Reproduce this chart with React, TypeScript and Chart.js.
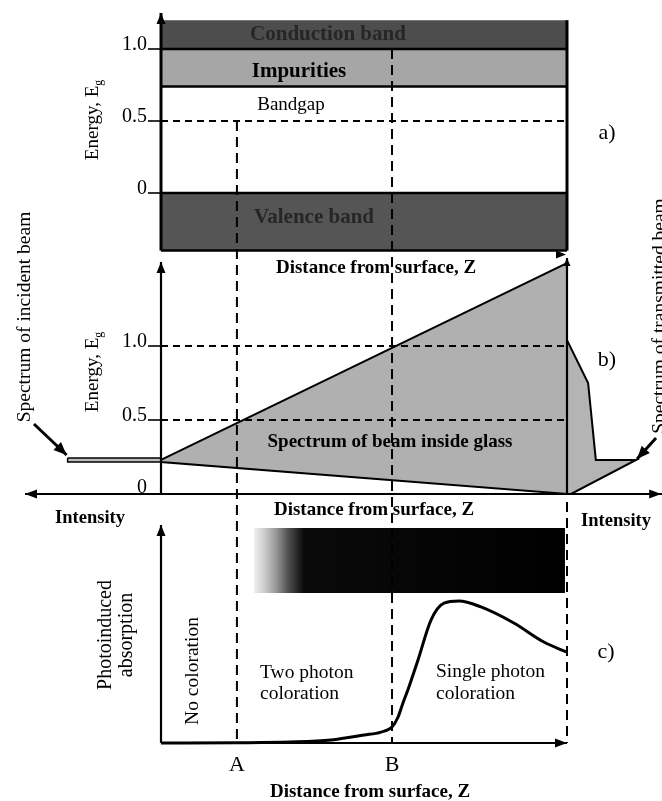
import React, { useEffect, useRef } from "react";
import { Chart, registerables } from "chart.js";

Chart.register(...registerables);

const SERIF = '"Liberation Serif", "Times New Roman", Times, serif';

// ---------- Panel a: band diagram (energy in units of Eg, depth Z normalised 0..1)
const bandZ = [0, 1];
const conductionBand = [1.0, 1.2];
const impurityBand = [0.74, 1.0];
const valenceBand = [-0.4, 0.0];
const energyTicks = [1.0, 0.5, 0];
const energyTickLabels = ["1.0", "0.5", "0"];

// ---------- Panel b: spectrum of the beam
const beamInsideZ = [0, 1, 1, 0, 0];
const beamInsideE = [0.23, 1.56, 0.0, 0.216, 0.23];
const incidentZ = [-0.23, 0, 0, -0.23, -0.23];
const incidentE = [0.243, 0.243, 0.216, 0.216, 0.243];
const transmittedZ = [1.0, 1.052, 1.071, 1.17, 1.01, 1.0];
const transmittedE = [1.04, 0.75, 0.23, 0.23, 0.0, 0.0];

// ---------- Panel c: photoinduced absorption
const absorptionZ = [0, 0.187, 0.318, 0.419, 0.5, 0.542, 0.569, 0.584, 0.596, 0.608, 0.633, 0.665, 0.697, 0.734, 0.788, 0.869, 0.943, 0.998];
const absorptionA = [0, 0.002, 0.007, 0.021, 0.056, 0.077, 0.113, 0.183, 0.282, 0.373, 0.585, 0.866, 0.985, 1.0, 0.958, 0.845, 0.711, 0.641];
const colorationZ = [0.229, 0.995];
const colorationA = [1.056, 1.514];

// ---------- depth markers
const markerLabels = ["A", "B"];
const markerZ = [0.187, 0.569];
const markerEg = [0.5, 1.0];

const pts = (xs: number[], ys: number[]) => xs.map((x, i) => ({ x, y: ys[i] }));
const rect = (zs: number[], band: number[]) =>
  pts([zs[0], zs[1], zs[1], zs[0], zs[0]], [band[0], band[0], band[1], band[1], band[0]]);

function strokeLine(ctx: CanvasRenderingContext2D, x1: number, y1: number, x2: number, y2: number, w = 2, dash: number[] = []) {
  ctx.save();
  ctx.beginPath();
  ctx.setLineDash(dash);
  ctx.lineWidth = w;
  ctx.strokeStyle = "#000";
  ctx.moveTo(x1, y1);
  ctx.lineTo(x2, y2);
  ctx.stroke();
  ctx.restore();
}

function arrowHead(ctx: CanvasRenderingContext2D, x1: number, y1: number, x2: number, y2: number, len = 11, half = 4.5) {
  const a = Math.atan2(y2 - y1, x2 - x1);
  const c = Math.cos(a), s = Math.sin(a);
  ctx.save();
  ctx.fillStyle = "#000";
  ctx.beginPath();
  ctx.moveTo(x2, y2);
  ctx.lineTo(x2 - len * c + half * s, y2 - len * s - half * c);
  ctx.lineTo(x2 - len * c - half * s, y2 - len * s + half * c);
  ctx.closePath();
  ctx.fill();
  ctx.restore();
}

function arrow(ctx: CanvasRenderingContext2D, x1: number, y1: number, x2: number, y2: number, w = 2, len = 11, half = 4.5) {
  strokeLine(ctx, x1, y1, x2, y2, w);
  arrowHead(ctx, x1, y1, x2, y2, len, half);
}

function text(
  ctx: CanvasRenderingContext2D,
  s: string,
  x: number,
  y: number,
  size: number,
  o: { bold?: boolean; align?: CanvasTextAlign; rot?: boolean; color?: string; base?: CanvasTextBaseline } = {}
) {
  ctx.save();
  ctx.font = `${o.bold ? "bold " : ""}${size}px ${SERIF}`;
  ctx.fillStyle = o.color || "#000";
  ctx.textAlign = o.align || "center";
  ctx.textBaseline = o.base || "middle";
  ctx.translate(x, y);
  if (o.rot) ctx.rotate(-Math.PI / 2);
  ctx.fillText(s, 0, 0);
  ctx.restore();
}

function energyLabel(ctx: CanvasRenderingContext2D, cx: number, cy: number, size: number) {
  ctx.save();
  ctx.translate(cx, cy);
  ctx.rotate(-Math.PI / 2);
  ctx.font = `${size}px ${SERIF}`;
  const main = "Energy, E";
  const w1 = ctx.measureText(main).width;
  ctx.font = `${size * 0.62}px ${SERIF}`;
  const w2 = ctx.measureText("g").width;
  const start = -(w1 + w2) / 2;
  ctx.fillStyle = "#000";
  ctx.textBaseline = "alphabetic";
  ctx.textAlign = "left";
  ctx.font = `${size}px ${SERIF}`;
  ctx.fillText(main, start, size * 0.33);
  ctx.font = `${size * 0.62}px ${SERIF}`;
  ctx.fillText("g", start + w1, size * 0.33 + size * 0.22);
  ctx.restore();
}

const diagramPlugin = {
  id: "diagram",
  afterDatasetsDraw(chart: any) {
    const ctx: CanvasRenderingContext2D = chart.ctx;
    const X = (v: number) => chart.scales.x.getPixelForValue(v);
    const YA = (v: number) => chart.scales.ya.getPixelForValue(v);
    const YB = (v: number) => chart.scales.yb.getPixelForValue(v);
    const YC = (v: number) => chart.scales.yc.getPixelForValue(v);
    const z0 = X(0), z1 = X(1);

    // ===== Panel a =====
    const aTop = YA(conductionBand[1]);
    const aBot = YA(valenceBand[0]);
    [conductionBand[0], impurityBand[0], valenceBand[1], valenceBand[0]].forEach((e) =>
      strokeLine(ctx, z0, YA(e), z1, YA(e), 2.5)
    );
    strokeLine(ctx, z1, aTop, z1, aBot, 3);
    arrow(ctx, z0, aBot, z0, YA(1.25), 3, 11, 4.5);
    arrowHead(ctx, z1 - 20, aBot + 4, z1 - 1, aBot + 4, 10, 4);
    strokeLine(ctx, z0, YA(0.5), z1, YA(0.5), 1.8, [7, 5]);
    energyTicks.forEach((e, i) => {
      strokeLine(ctx, z0 - 13, YA(e), z0, YA(e), 1.6);
      text(ctx, energyTickLabels[i], z0 - 14, YA(e) + 1, 20, { align: "right", base: "alphabetic" });
    });
    energyLabel(ctx, 92, 120, 19);
    text(ctx, "a)", 607, 133, 22);
    text(ctx, "Conduction band", 328, 35, 21, { bold: true, color: "#262626" });
    text(ctx, "Impurities", 299, 72, 21, { bold: true });
    text(ctx, "Bandgap", 291, 105, 19);
    text(ctx, "Valence band", 314, 218, 21, { bold: true, color: "#262626" });
    text(ctx, "Distance from surface, Z", 376, 268, 19, { bold: true });

    // ===== depth markers (dashed verticals through the panels) =====
    markerZ.forEach((z, i) => {
      strokeLine(ctx, X(z), YA(markerEg[i]), X(z), YC(0), 2, [10, 6]);
      text(ctx, markerLabels[i], X(z), 765, 22);
    });
    strokeLine(ctx, z1, YB(0) + 8, z1, YC(0), 2, [10, 6]);

    // ===== Panel b =====
    strokeLine(ctx, z0, YB(0), z0, YB(1.568), 2.2);
    arrowHead(ctx, z0, YB(1), z0, YB(1.568), 11, 4.5);
    strokeLine(ctx, z1, YB(0), z1, YB(1.595), 2.2);
    arrowHead(ctx, z1, YB(1), z1, YB(1.595), 8, 3.5);
    strokeLine(ctx, X(-0.335), YB(0), X(1.234), YB(0), 2.2);
    arrowHead(ctx, X(0), YB(0), X(-0.335), YB(0), 12, 4.5);
    arrowHead(ctx, X(1), YB(0), X(1.232), YB(0), 12, 4.5);
    strokeLine(ctx, z0, YB(1.0), z1, YB(1.0), 1.8, [7, 5]);
    strokeLine(ctx, z0, YB(0.5), z1, YB(0.5), 1.8, [7, 5]);
    energyTicks.forEach((e, i) => {
      if (e !== 0) strokeLine(ctx, z0 - 13, YB(e), z0, YB(e), 1.6);
      text(ctx, energyTickLabels[i], z0 - 14, YB(e) + (e === 0 ? -1 : 1), 20, { align: "right", base: "alphabetic" });
    });
    energyLabel(ctx, 92, 372, 19);
    text(ctx, "b)", 607, 360, 22);
    text(ctx, "Spectrum of beam inside glass", 390, 442, 19, { bold: true });
    text(ctx, "Distance from surface, Z", 374, 510, 19, { bold: true });
    text(ctx, "Intensity", 90, 518, 18.5, { bold: true });
    text(ctx, "Intensity", 616, 521, 18.5, { bold: true });
    text(ctx, "Spectrum of incident beam", 25, 317, 19.5, { rot: true });
    arrow(ctx, 34, 424, X(incidentZ[0]) - 1, YB(incidentE[0]) - 3, 3, 13, 5.5);
    text(ctx, "Spectrum of transmitted beam", 660, 316, 19.5, { rot: true });
    arrow(ctx, 656, 438, X(transmittedZ[3]) + 1, YB(transmittedE[3]) - 1, 3, 13, 5.5);

    // ===== Panel c =====
    strokeLine(ctx, z0, YC(0), z0, YC(1.535), 2.2);
    arrowHead(ctx, z0, YC(1), z0, YC(1.535), 11, 4.5);
    strokeLine(ctx, z0, YC(0), z1, YC(0), 2.2);
    arrowHead(ctx, z0, YC(0), z1, YC(0), 12, 4.5);
    text(ctx, "c)", 606, 652, 22);
    text(ctx, "Photoinduced", 106, 635, 20, { rot: true });
    text(ctx, "absorption", 127, 635, 20, { rot: true });
    text(ctx, "No coloration", 193, 671, 19.5, { rot: true });
    text(ctx, "Two photon", 260, 673, 19.5, { align: "left" });
    text(ctx, "coloration", 260, 694, 19.5, { align: "left" });
    text(ctx, "Single photon", 436, 672, 19.5, { align: "left" });
    text(ctx, "coloration", 436, 694, 19.5, { align: "left" });
    text(ctx, "Distance from surface, Z", 370, 792, 19, { bold: true });
  },
};

const polygon = (data: any[], yAxisID: string, bg: any, bw = 0) => ({
  data,
  yAxisID,
  backgroundColor: bg,
  borderColor: bw ? "#000" : "rgba(0,0,0,0)",
  borderWidth: bw,
  fill: "shape",
  pointRadius: 0,
  tension: 0,
});

export default function App() {
  const ref = useRef<HTMLCanvasElement>(null);
  useEffect(() => {
    const chart = new Chart(ref.current as HTMLCanvasElement, {
      type: "line",
      data: {
        datasets: [
          {
            data: pts(absorptionZ, absorptionA),
            yAxisID: "yc",
            borderColor: "#000",
            borderWidth: 3,
            fill: false,
            pointRadius: 0,
            cubicInterpolationMode: "monotone",
          } as any,
          polygon(
            rect(colorationZ, colorationA),
            "yc",
            (c: any) => {
              const xs = c.chart.scales && c.chart.scales.x;
              if (!xs || !c.chart.chartArea) return "#000";
              const g = c.chart.ctx.createLinearGradient(xs.getPixelForValue(colorationZ[0]), 0, xs.getPixelForValue(colorationZ[1]), 0);
              g.addColorStop(0, "#f0f0f0");
              g.addColorStop(0.03, "#d0d0d0");
              g.addColorStop(0.07, "#9a9a9a");
              g.addColorStop(0.11, "#505050");
              g.addColorStop(0.16, "#0a0a0a");
              g.addColorStop(1, "#000");
              return g;
            }
          ),
          polygon(pts(transmittedZ, transmittedE), "yb", "#b4b4b4", 2),
          polygon(pts(incidentZ, incidentE), "yb", "#bdbdbd", 1.5),
          polygon(pts(beamInsideZ, beamInsideE), "yb", "#b0b0b0", 2),
          polygon(rect(bandZ, valenceBand), "ya", "#555555"),
          polygon(rect(bandZ, impurityBand), "ya", "#a6a6a6"),
          polygon(rect(bandZ, conductionBand), "ya", "#4d4d4d"),
        ],
      },
      options: {
        responsive: false,
        maintainAspectRatio: false,
        animation: false,
        events: [],
        layout: { padding: 0 },
        plugins: { legend: { display: false }, tooltip: { enabled: false } },
        scales: {
          x: { type: "linear", display: false, min: -161 / 406, max: 501 / 406 },
          ya: { type: "linear", display: false, min: -608 / 144, max: 193 / 144 },
          yb: { type: "linear", display: false, min: -307 / 148, max: 494 / 148 },
          yc: { type: "linear", display: false, min: -58 / 142, max: 743 / 142 },
        },
      },
      plugins: [diagramPlugin],
    } as any);
    return () => chart.destroy();
  }, []);
  return (
    <div style={{ position: "absolute", left: 0, top: 0, width: 662, height: 801, background: "#fff" }}>
      <canvas ref={ref} width={662} height={801} style={{ display: "block", width: 662, height: 801 }} />
    </div>
  );
}
